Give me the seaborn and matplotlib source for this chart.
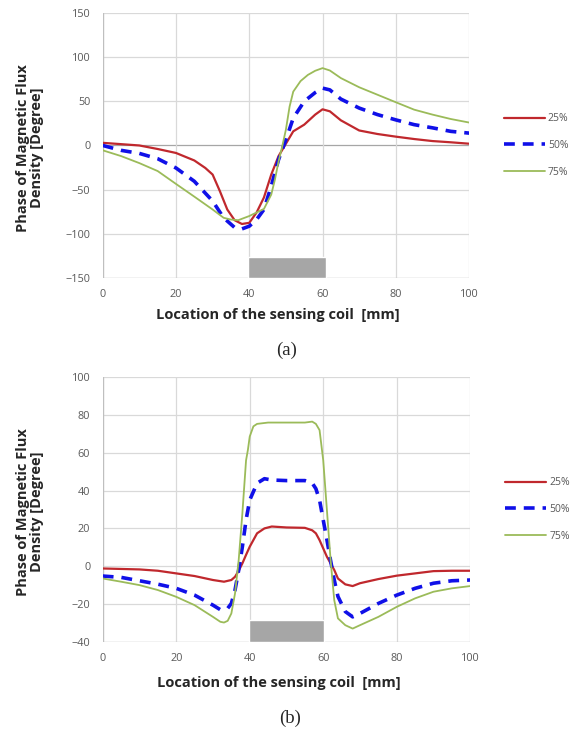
import numpy as np
import pandas as pd
import matplotlib
matplotlib.use("Agg")
import matplotlib.pyplot as plt
import seaborn as sns

# ---------------- data: chart (a) ----------------
a25_x = [0, 10, 15, 20, 25, 28, 30, 32, 34, 36, 38, 40, 42, 44, 46, 48, 50, 52, 55, 58, 60, 62, 65, 70, 75, 80, 85, 90, 95, 100]
a25_y = [3, 0, -4, -8.5, -17, -25.5, -33, -52, -72.6, -84.7, -89, -87.7, -76, -59, -33, -12, 2, 16, 23.6, 35, 41, 38.7, 28.5, 17, 13, 10, 7.3, 5, 3.6, 2]

a50_x = [0, 5, 10, 15, 20, 25, 30, 33, 36, 38, 40, 42, 44, 46, 48, 50, 52, 55, 58, 60, 62, 65, 70, 75, 80, 85, 90, 95, 100]
a50_y = [0, -5.5, -9, -15, -25.5, -40.6, -63, -82, -93, -94.6, -91.5, -84, -72.6, -46, -16, 6.6, 31, 50, 60, 65, 63, 52.6, 42.4, 35, 29, 23.6, 20, 16, 14]

a75_x = [0, 5, 10, 15, 20, 25, 30, 33, 35, 37, 40, 42, 44, 46, 47, 48, 49, 50, 51, 52, 54, 56, 58, 60, 62, 65, 70, 75, 80, 85, 90, 95, 100]
a75_y = [-5.5, -12, -20, -29, -43.6, -58, -72.6, -82, -84, -84.7, -80, -76, -72, -55.7, -38.7, -18, -1, 18, 44, 61, 73, 80, 84.7, 87.7, 85, 76.4, 66, 57.5, 49, 40.6, 35, 30, 26]

# ---------------- data: chart (b) ----------------
b25_x = [0, 10, 15, 20, 25, 30, 33, 35, 36, 37, 38, 39, 40, 42, 44, 46, 50, 55, 57, 58, 59, 60, 61, 62, 63, 64, 66, 68, 70, 75, 80, 85, 90, 95, 100]
b25_y = [-1.2, -1.7, -2.4, -3.8, -5.2, -7.3, -8.2, -7.3, -5.6, -2.4, 1.5, 6, 10.3, 17.4, 20, 21, 20.5, 20.3, 19, 17.4, 13.8, 9.4, 5, 1.5, -2, -6.5, -9.6, -10.5, -9, -6.8, -5, -3.8, -2.6, -2.4, -2.4]

b50_x = [0, 5, 10, 15, 20, 25, 30, 32, 34, 35, 36, 37, 38, 39, 40, 42, 44, 46, 50, 55, 57, 58, 59, 60, 61, 62, 63, 64, 66, 68, 70, 75, 80, 85, 90, 95, 100]
b50_y = [-5.2, -5.9, -7.7, -9.5, -11.7, -15.3, -20.6, -23, -22.3, -19.7, -12.6, -2, 10.3, 24.4, 35, 43.9, 46.3, 45.6, 45.3, 45.3, 44, 41, 35, 24.4, 14, 3, -7.3, -16, -24, -26.8, -25, -19.7, -15.3, -11.7, -9, -7.7, -7.3]

b75_x = [0, 5, 10, 15, 20, 25, 30, 32, 33, 34, 35, 36, 37, 38, 39, 39.5, 40, 41, 42, 45, 50, 55, 57, 58, 59, 60, 61, 62, 63, 64, 66, 68, 70, 75, 80, 85, 90, 95, 100]
b75_y = [-6.5, -8.2, -10, -12.6, -16.2, -20.6, -26.8, -29.4, -29.8, -28.9, -25, -14.4, 3.3, 28, 56, 61.5, 68.6, 74, 75.3, 76, 76, 76, 76.5, 75.3, 72, 56, 29.7, 3.3, -18, -27.6, -31.2, -33, -31.2, -26.8, -21.5, -17, -13.5, -11.7, -10.5]

series_labels = ["25%", "50%", "75%"]
a_xticks = [0, 20, 40, 60, 80, 100]
a_yticks = [-150, -100, -50, 0, 50, 100, 150]
b_yticks = [-40, -20, 0, 20, 40, 60, 80, 100]
# coil block: x start, x end, top value
a_block = (39.6, 61.0, -127.0)
b_block = (39.8, 60.1, -28.2)

xlabel = "Location of the sensing coil  [mm]"
ylabel = "Phase of Magnetic Flux\nDensity [Degree]"

sns.set_style("white")
plt.rcParams['font.family'] = ['Open Sans', 'DejaVu Sans']

fig = plt.figure(figsize=(5.77, 7.31), dpi=100)
ax1 = fig.add_axes([0.178, 0.620, 0.635, 0.362])
ax2 = fig.add_axes([0.178, 0.122, 0.637, 0.362])

colors = ["#C0282D", "#1010E8", "#9BBB59"]
styles = [dict(lw=1.6), dict(lw=2.6, dashes=(3, 2.2)), dict(lw=1.3)]

def draw(ax, data, yticks, block, zero_dark, xlab_y):
    ylo, yhi = yticks[0], yticks[-1]
    ax.set_xlim(0, 100)
    ax.set_ylim(ylo, yhi)
    for t in yticks:
        col = "#A6A6A6" if (t == 0 and zero_dark) else "#D9D9D9"
        ax.axhline(t, color=col, lw=0.9, zorder=0)
    for t in a_xticks:
        ax.axvline(t, color="#D9D9D9", lw=0.9, zorder=0)
    ax.axvline(0, color="#BFBFBF", lw=0.9, zorder=0)
    ax.axhline(ylo, color="#BFBFBF", lw=0.9, zorder=0)
    ax.bar([(block[0] + block[1]) / 2], [block[2] - ylo], width=block[1] - block[0],
           bottom=ylo, color="#A6A6A6", zorder=1)
    handles = []
    for (x, y), lab, c, st in zip(data, series_labels, colors, styles):
        df = pd.DataFrame({"x": x, "y": y})
        sns.lineplot(data=df, x="x", y="y", ax=ax, color=c, label=lab, zorder=3,
                     lw=st["lw"])
        line = ax.get_lines()[-1]
        if "dashes" in st:
            line.set_dashes(st["dashes"])
        handles.append(line)
    for s in ax.spines.values():
        s.set_visible(False)
    ax.set_xticks(a_xticks)
    ax.set_yticks(yticks)
    ax.tick_params(axis="y", length=0, labelsize=7.8, labelcolor="#595959", pad=9)
    ax.tick_params(axis="x", length=0, labelsize=7.8, labelcolor="#595959", pad=8)
    ax.set_xlabel(xlabel, fontsize=10.5, fontweight="bold")
    ax.set_ylabel(ylabel, fontsize=10.5, fontweight="bold", linespacing=1.0)
    ax.xaxis.set_label_coords(0.479, xlab_y)
    ax.yaxis.set_label_coords(-0.16, 0.49)
    ax.legend(handles=handles, labels=series_labels, loc="center left",
              bbox_to_anchor=(1.07, 0.5), frameon=False, fontsize=7.5,
              handlelength=3.9, labelspacing=1.5, handletextpad=0.3,
              labelcolor="#595959")

draw(ax1, [(a25_x, a25_y), (a50_x, a50_y), (a75_x, a75_y)], a_yticks, a_block, True, -0.115)
draw(ax2, [(b25_x, b25_y), (b50_x, b50_y), (b75_x, b75_y)], b_yticks, b_block, False, -0.128)

fig.text(0.497, 1 - 350 / 731, "(a)", ha="center", va="center", fontsize=13.5,
         family="Liberation Serif")
fig.text(0.503, 1 - 718 / 731, "(b)", ha="center", va="center", fontsize=13.5,
         family="Liberation Serif")

fig.savefig("out.png", dpi=100)
